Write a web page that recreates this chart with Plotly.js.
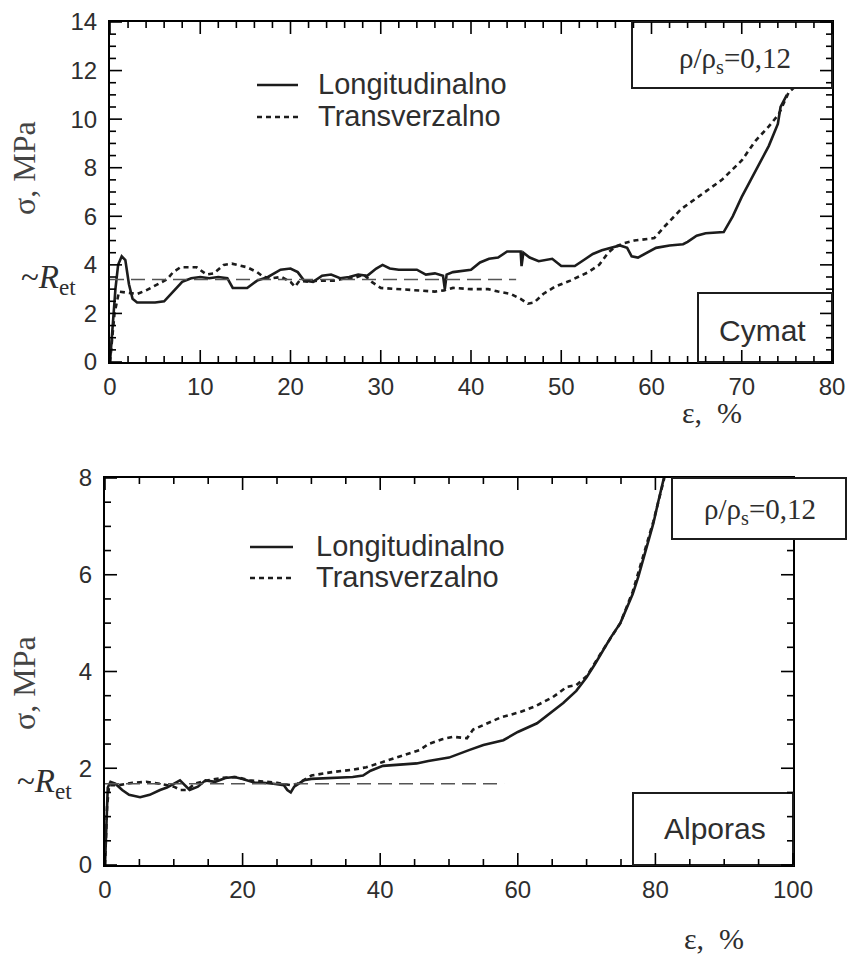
<!DOCTYPE html>
<html>
<head>
<meta charset="utf-8">
<script src="https://cdn.plot.ly/plotly-3.0.1.min.js"></script>
<style>html,body{margin:0;padding:0;background:#fff;}#chart{width:851px;height:956px;}</style>
</head>
<body>
<div id="chart"></div>
<script>
// ---------- DATA ----------
// Top panel (Cymat), strain ε [%] vs stress σ [MPa]
const cymatLongX = [0,0.3,0.6,0.9,1.3,1.7,2.1,2.5,3.0,4.0,5.0,6.0,7.0,8.0,9.0,10,11,12,13,13.6,15.2,16.3,17.5,18.9,20,20.8,21.5,22.5,23.5,24.5,25.5,26.5,27.5,28.5,29.5,30.2,31,32,34,35,36,36.9,37.1,37.3,38,39,40,41,42,43,44,45.5,45.6,45.8,46.5,47.5,48.5,49,50,51.5,52.5,53.5,54.5,55.5,56.5,57.3,57.8,58.5,59.5,60.5,62,63.5,64,65,66,68,69,70,71,72,73,74,74.3,75];
const cymatLongY = [0,1.5,3.0,4.0,4.35,4.2,3.2,2.6,2.45,2.45,2.45,2.5,2.9,3.3,3.45,3.5,3.45,3.5,3.45,3.05,3.05,3.35,3.5,3.8,3.85,3.7,3.35,3.3,3.55,3.6,3.45,3.5,3.6,3.55,3.85,4.0,3.85,3.8,3.8,3.6,3.65,3.55,3.0,3.6,3.7,3.75,3.8,4.1,4.25,4.3,4.55,4.55,3.95,4.5,4.3,4.15,4.2,4.25,3.95,3.95,4.2,4.45,4.6,4.7,4.8,4.7,4.35,4.3,4.5,4.7,4.8,4.85,4.95,5.2,5.3,5.35,6.0,6.8,7.5,8.2,8.9,9.8,10.5,11.0];
const cymatTransX = [0,0.5,1.0,2.0,3.0,4.0,5.0,6.3,7.0,7.8,9.6,10.7,11.5,12.6,13.5,15.2,16.3,17,18,19,20,20.5,21,22,23,24,25,26,27,28.1,29,30,32,34,36,37,38,40,41.9,43,44.4,45.5,46.3,47,48,49.3,51,53,54.2,55.2,56,57,58.1,60.3,61.5,63.3,65.5,67.8,70,71.5,73,74.1,75.2,75.8];
const cymatTransY = [0,2.0,2.9,2.85,2.8,2.95,3.15,3.4,3.7,3.9,3.9,3.6,3.65,4.0,4.05,3.9,3.7,3.5,3.45,3.5,3.3,3.1,3.35,3.3,3.35,3.35,3.35,3.45,3.45,3.6,3.3,3.05,3.0,2.95,2.9,2.95,3.05,3.0,3.0,2.9,2.8,2.6,2.4,2.45,2.8,3.1,3.35,3.7,4.0,4.5,4.75,4.9,5.0,5.1,5.6,6.3,6.9,7.5,8.3,9.1,9.7,10.2,11.1,11.3];
const cymatRetX = [0, 45];
const cymatRet = 3.4;

// Bottom panel (Alporas)
const alporasLongX = [0,0.2,0.4,0.8,1.5,2.5,3.5,5.1,6.5,8,9,10.9,12.3,13.5,14.6,16,17.5,18.8,20,21.8,23,24.5,26,26.5,27,27.5,28.9,30,33.7,36,37.5,38.6,40.4,43,45.3,47,50,53,55,57.9,60,62.8,64.8,66.6,68.5,70,71.2,72.4,73.5,74.9,75.8,76.7,77.5,78.2,79,79.7,80.4,81.1,81.4];
const alporasLongY = [0,1.0,1.6,1.72,1.68,1.55,1.45,1.4,1.45,1.55,1.6,1.75,1.55,1.62,1.75,1.72,1.8,1.82,1.78,1.7,1.7,1.68,1.65,1.55,1.5,1.62,1.75,1.78,1.8,1.82,1.85,1.95,2.05,2.07,2.1,2.15,2.22,2.38,2.48,2.58,2.75,2.93,3.15,3.35,3.6,3.88,4.15,4.44,4.7,5.0,5.3,5.6,5.95,6.3,6.7,7.06,7.5,7.95,8.1];
const alporasTransX = [0,0.3,0.6,2,4,6,8,10,11,12,13,15,17,19,21,23,25,27,28,30,33,36,38,40.4,43,45.8,47,49,50.6,52.6,53.5,55.5,57.5,60.3,62.5,65.1,67.1,68.5,70,72.4,74.9,76.7,78.2,79.7,81.3];
const alporasTransY = [0,1.2,1.65,1.65,1.7,1.72,1.68,1.62,1.55,1.55,1.68,1.75,1.8,1.82,1.75,1.72,1.7,1.65,1.68,1.85,1.92,1.97,2.02,2.13,2.25,2.38,2.5,2.6,2.65,2.62,2.8,2.93,3.05,3.16,3.28,3.47,3.68,3.72,3.9,4.45,5.0,5.65,6.35,7.1,8.0];
const alporasRetX = [0, 58];
const alporasRet = 1.68;

const seriesNames = ["Longitudinalno", "Transverzalno"];
const topXTicks = [0,10,20,30,40,50,60,70,80];
const topYTicks = [0,2,4,6,8,10,12,14];
const botXTicks = [0,20,40,60,80,100];
const botYTicks = [0,2,4,6,8];
const topXMinor = 2, topYMinor = 0.5, botXMinor = 5, botYMinor = 0.5;
const densityLabel = "ρ/ρ<sub>s</sub>=0,12";
const panelLabels = ["Cymat", "Alporas"];

// ---------- LAYOUT HELPERS ----------
const W = 851, H = 956;
const fx = p => p / W;
const fy = p => 1 - p / H;
const INK = "#1c1c1c";
const TXT = "#2e2e2e";
const SANS = "Liberation Sans, Arial, sans-serif";
const SERIF = "Liberation Serif, Times New Roman, serif";

const solid = {color: INK, width: 2.6};
const dashed = {color: INK, width: 2.6, dash: "5px,4px"};
const retLine = {color: "#555", width: 1.6, dash: "14px,7px"};

const traces = [
  {x: cymatLongX, y: cymatLongY, xaxis: "x", yaxis: "y", mode: "lines", line: solid, name: seriesNames[0], showlegend: false},
  {x: cymatTransX, y: cymatTransY, xaxis: "x", yaxis: "y", mode: "lines", line: dashed, name: seriesNames[1], showlegend: false},
  {x: cymatRetX, y: cymatRetX.map(() => cymatRet), xaxis: "x", yaxis: "y", mode: "lines", line: retLine, name: "Ret", showlegend: false},
  {x: alporasLongX, y: alporasLongY, xaxis: "x2", yaxis: "y2", mode: "lines", line: solid, name: seriesNames[0], showlegend: false},
  {x: alporasTransX, y: alporasTransY, xaxis: "x2", yaxis: "y2", mode: "lines", line: dashed, name: seriesNames[1], showlegend: false},
  {x: alporasRetX, y: alporasRetX.map(() => alporasRet), xaxis: "x2", yaxis: "y2", mode: "lines", line: retLine, name: "Ret", showlegend: false}
];

// panel geometry (pixels of the 851x956 page)
const panels = [
  {px: [110, 832], py: [362, 22], xt: topXTicks, yt: topYTicks, xm: topXMinor, ym: topYMinor},
  {px: [105, 793], py: [865, 478], xt: botXTicks, yt: botYTicks, xm: botXMinor, ym: botYMinor}
];

function axis(ticksArr, extra) {
  return Object.assign({
    showline: true, linecolor: "#000", linewidth: 2, mirror: true,
    ticks: "", dtick: ticksArr[1] - ticksArr[0],
    range: [ticksArr[0], ticksArr[ticksArr.length - 1]],
    showgrid: false, zeroline: false, automargin: false,
    tickfont: {family: SANS, size: 24, color: TXT}
  }, extra);
}

const layout = {
  width: W, height: H,
  margin: {l: 0, r: 0, t: 0, b: 0},
  xaxis: axis(topXTicks, {domain: [fx(110), fx(832)], anchor: "y", ticklabelstandoff: 2}),
  yaxis: axis(topYTicks, {domain: [fy(362), fy(22)], anchor: "x", ticklabelstandoff: 6}),
  xaxis2: axis(botXTicks, {domain: [fx(105), fx(793)], anchor: "y2", ticklabelstandoff: 2}),
  yaxis2: axis(botYTicks, {domain: [fy(865), fy(478)], anchor: "x2", ticklabelstandoff: 6}),
  shapes: [],
  annotations: []
};

function box(x0, y0, x1, y1) {
  layout.shapes.push({type: "rect", xref: "paper", yref: "paper", x0: fx(x0), x1: fx(x1), y0: fy(y1), y1: fy(y0),
    line: {color: INK, width: 2}, fillcolor: "#fff"});
}
function seg(x0, x1, y, dash) {
  layout.shapes.push({type: "line", xref: "paper", yref: "paper", x0: fx(x0), x1: fx(x1), y0: fy(y), y1: fy(y),
    line: {color: INK, width: 2.4, dash: dash || "solid"}});
}
function tick(x0, y0, x1, y1) {
  layout.shapes.push({type: "line", xref: "paper", yref: "paper", x0: fx(x0), x1: fx(x1), y0: fy(y0), y1: fy(y1),
    line: {color: "#000", width: 1.6}});
}
function label(text, x, y, opts) {
  layout.annotations.push(Object.assign({text: text, xref: "paper", yref: "paper", x: fx(x), y: fy(y),
    showarrow: false, xanchor: "left", yanchor: "middle",
    font: {family: SANS, size: 29, color: TXT}}, opts || {}));
}

// info boxes (below the tick marks), except the lower density box drawn last
box(632, 22, 832, 88);
box(698, 293, 832, 362);
box(633, 793, 793, 865);

// inside tick marks on all four sides, mapped with the same linear scale as the axes
const MAJ = 12, MIN = 6;
function steps(a, b, s) { const out = []; for (let v = a; v <= b + 1e-9; v += s) out.push(+v.toFixed(6)); return out; }
panels.forEach(p => {
  const xr = [p.xt[0], p.xt[p.xt.length - 1]], yr = [p.yt[0], p.yt[p.yt.length - 1]];
  const xpix = v => p.px[0] + (v - xr[0]) / (xr[1] - xr[0]) * (p.px[1] - p.px[0]);
  const ypix = v => p.py[0] - (v - yr[0]) / (yr[1] - yr[0]) * (p.py[0] - p.py[1]);
  steps(xr[0], xr[1], p.xm).forEach(v => {
    const len = p.xt.includes(v) ? MAJ : MIN, X = xpix(v);
    tick(X, p.py[0], X, p.py[0] - len);
    tick(X, p.py[1], X, p.py[1] + len);
  });
  steps(yr[0], yr[1], p.ym).forEach(v => {
    const len = p.yt.includes(v) ? MAJ : MIN, Y = ypix(v);
    tick(p.px[0], Y, p.px[0] + len, Y);
    tick(p.px[1], Y, p.px[1] - len, Y);
  });
});

box(672, 478, 846, 539);

label(densityLabel, 735, 60, {xanchor: "center", font: {family: SERIF, size: 29, color: TXT}});
label(panelLabels[0], 762, 330, {xanchor: "center", font: {family: SANS, size: 30, color: TXT}});
label(densityLabel, 760, 511, {xanchor: "center", font: {family: SERIF, size: 29, color: TXT}});
label(panelLabels[1], 715, 828, {xanchor: "center", font: {family: SANS, size: 30, color: TXT}});

// legends
seg(257, 298, 85);
seg(257, 298, 117, "5px,4px");
label(seriesNames[0], 316, 84);
label(seriesNames[1], 316, 116);
seg(250, 293, 547);
seg(250, 293, 578, "5px,4px");
label(seriesNames[0], 314, 546);
label(seriesNames[1], 314, 577);

// axis titles
label("σ, MPa", 24, 168, {xanchor: "center", textangle: -90, font: {family: SERIF, size: 32, color: "#444"}});
label("σ, MPa", 24, 683, {xanchor: "center", textangle: -90, font: {family: SERIF, size: 32, color: "#444"}});
label("ε,&nbsp;&nbsp;%", 712, 412, {xanchor: "center", font: {family: SERIF, size: 30, color: TXT}});
label("ε,&nbsp;&nbsp;%", 714, 938, {xanchor: "center", font: {family: SERIF, size: 30, color: TXT}});

// ~Ret labels
layout.annotations.push({text: "~<i>R</i><sub>et</sub>", xref: "paper", yref: "y", x: fx(78), y: cymatRet,
  xanchor: "right", yanchor: "middle", showarrow: false, font: {family: SERIF, size: 33, color: TXT}});
layout.annotations.push({text: "~<i>R</i><sub>et</sub>", xref: "paper", yref: "y2", x: fx(74), y: alporasRet,
  xanchor: "right", yanchor: "middle", showarrow: false, font: {family: SERIF, size: 33, color: TXT}});

Plotly.newPlot("chart", traces, layout, {staticPlot: true});
</script>
</body>
</html>
